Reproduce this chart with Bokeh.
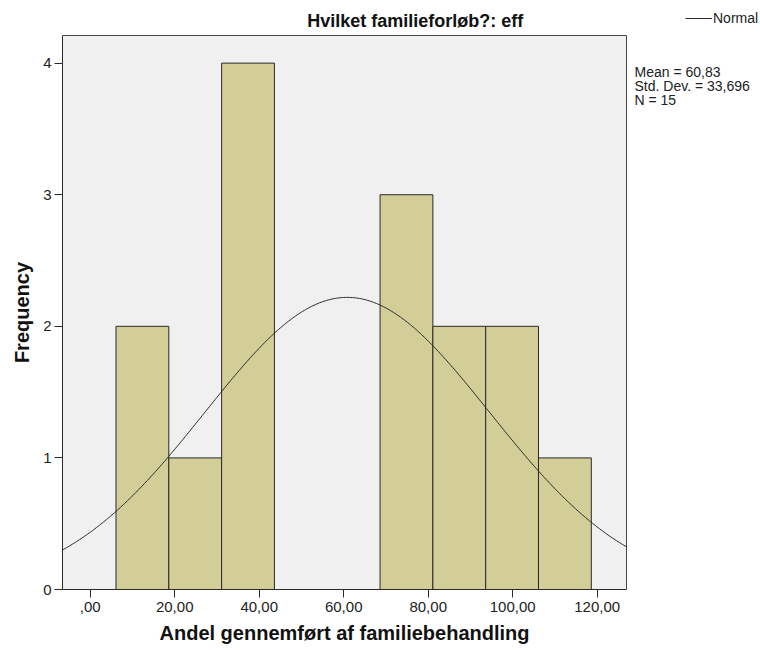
import numpy as np
from bokeh.plotting import figure
from bokeh.models import Range1d, FixedTicker, Label, Legend, LegendItem, BoxAnnotation, Title
from bokeh.embed import file_html
from bokeh.resources import INLINE

# ---- data ----
bin_edges = [6.1, 18.6, 31.1, 43.6, 56.1, 68.6, 81.1, 93.6, 106.1, 118.6]
counts = [2, 1, 4, 0, 0, 3, 2, 2, 1]
mean_val = 60.83
std_val = 33.696
n_val = 15
x_ticks = [0, 20, 40, 60, 80, 100, 120]
x_tick_labels = [",00", "20,00", "40,00", "60,00", "80,00", "100,00", "120,00"]
y_ticks = [0, 1, 2, 3, 4]
stats_lines = ["Mean = 60,83", "Std. Dev. = 33,696", "N = 15"]
title_text = "Hvilket familieforløb?: eff"
x_label = "Andel gennemført af familiebehandling"
y_label = "Frequency"
legend_label = "Normal"

# ---- layout constants (pixels) ----
W, H = 760, 650
FRAME_L, FRAME_B = 62, 589          # frame left / bottom on the canvas
AREA_R, AREA_T = 626, 35            # plot-area right / top on the canvas
X0, X1, Y1 = -6.56, 126.93, 4.21    # plot-area data extents
PXU = (AREA_R - FRAME_L) / (X1 - X0)
PYU = (FRAME_B - AREA_T) / Y1

def dx(px):
    return X0 + (px - FRAME_L) / PXU

def dy(py):
    return (FRAME_B - py) / PYU

FONT = "Liberation Sans"
BAR_FILL = "#d3ce97"
DARK = "#2a2a2a"

p = figure(width=W, height=H, output_backend="svg", toolbar_location=None,
           x_range=Range1d(X0, dx(W)), y_range=Range1d(0, dy(0)),
           min_border_left=FRAME_L, min_border_right=0, min_border_top=0,
           min_border_bottom=H - FRAME_B)
p.background_fill_color = "white"
p.border_fill_color = "white"
p.outline_line_color = None
p.xgrid.visible = False
p.ygrid.visible = False

# plot area background + border
p.add_layout(BoxAnnotation(left=X0, right=X1, bottom=0, top=Y1, level="underlay",
                           fill_color="#f0f0f0", fill_alpha=1,
                           line_color="#444444", line_width=1, line_alpha=1))

# bars
lefts = [bin_edges[i] for i in range(len(counts)) if counts[i] > 0]
rights = [bin_edges[i + 1] for i in range(len(counts)) if counts[i] > 0]
tops = [c for c in counts if c > 0]
p.quad(left=lefts, right=rights, bottom=0, top=tops,
       fill_color=BAR_FILL, line_color=DARK, line_width=1)

# normal curve
bw = bin_edges[1] - bin_edges[0]
xs = np.linspace(X0, X1, 400)
ys = n_val * bw * np.exp(-0.5 * ((xs - mean_val) / std_val) ** 2) / (std_val * np.sqrt(2 * np.pi))
curve = p.line(xs, ys, line_color=DARK, line_width=1)

# axes
for ax in (p.xaxis[0], p.yaxis[0]):
    ax.axis_line_color = DARK
    ax.major_tick_line_color = DARK
    ax.major_tick_in = 0
    ax.major_tick_out = 8
    ax.minor_tick_line_color = None
    ax.major_label_text_font = FONT
    ax.major_label_text_font_size = "15px"
    ax.major_label_text_color = "#222222"
    ax.major_label_standoff = 3

p.xaxis.bounds = (X0, X1)
p.yaxis.bounds = (0, Y1)
p.xaxis.ticker = FixedTicker(ticks=x_ticks)
p.xaxis.major_label_overrides = {t: l for t, l in zip(x_ticks, x_tick_labels)}
p.yaxis.ticker = FixedTicker(ticks=y_ticks)
p.xaxis.major_label_standoff = 4

# axis titles, centred on the plot area (not the whole frame)
LBL_W = 18.5 * 20      # approx. width of the x label text
p.add_layout(Title(text=x_label, align="left", offset=(AREA_R + FRAME_L) / 2 - FRAME_L - LBL_W / 2,
                   text_font=FONT, text_font_size="20px", text_font_style="bold",
                   text_color="#111111", standoff=11), "below")
YL_W = 5.06 * 20
p.add_layout(Title(text=y_label, align="left", offset=(FRAME_B - AREA_T) / 2 - YL_W / 2,
                   text_font=FONT, text_font_size="20px", text_font_style="bold",
                   text_color="#111111", standoff=16), "left")

# title
p.add_layout(Label(x=dx(414.7), y=dy(20), text=title_text,
                   text_font=FONT, text_font_size="18px", text_font_style="bold",
                   text_color="#111111", text_align="center", text_baseline="middle"))

# statistics
for i, s in enumerate(stats_lines):
    p.add_layout(Label(x=dx(634), y=dy(71 + 14 * i), text=s,
                       text_font=FONT, text_font_size="14px", text_color="#222222",
                       text_align="left", text_baseline="middle"))

# legend
legend = Legend(items=[LegendItem(label=legend_label, renderers=[curve])],
                location=(685 - FRAME_L, FRAME_B - 28), padding=0, margin=0, spacing=0,
                glyph_width=27, glyph_height=20, label_height=20, label_standoff=1,
                label_text_font=FONT, label_text_font_size="14px",
                label_text_color="#222222", background_fill_alpha=0,
                border_line_color=None)
p.add_layout(legend, "center")

open("out.html", "w").write(file_html(p, INLINE))
